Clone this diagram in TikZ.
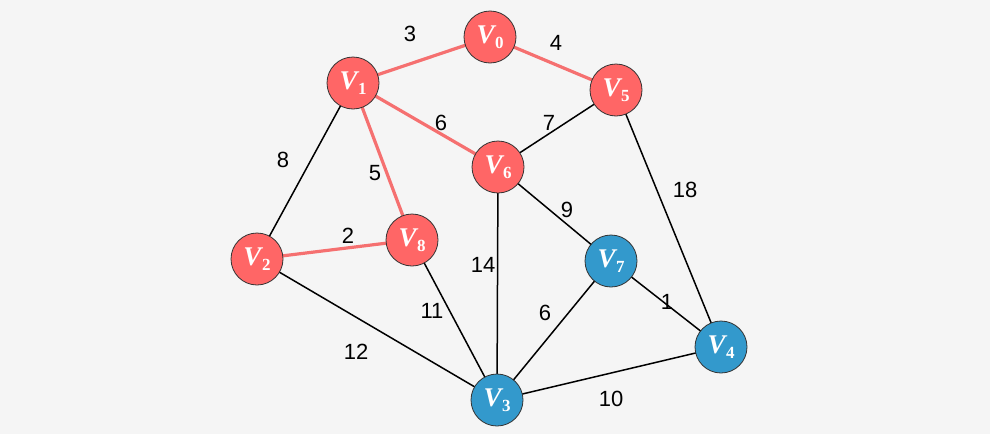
\documentclass[tikz,border=0pt]{standalone}
\usepackage{fontspec}
\setsansfont{Liberation Sans}
\newfontfamily\vfont{Liberation Serif}
\newcommand{\vl}[1]{{\vfont\bfseries\itshape V}\kern0.5pt\raisebox{-5pt}{\vfont\bfseries\fontsize{17}{20}\selectfont #1}}
\begin{document}
\begin{tikzpicture}[x=1pt,y=-1pt,
  vred/.style={circle,draw=black!80,line width=0.8pt,fill=redfill,minimum size=52pt,inner sep=0pt,text=white,font=\fontsize{27}{30}\selectfont},
  vblue/.style={vred,fill=bluefill},
  redge/.style={draw=redline,line width=3.2pt},
  bedge/.style={draw=black,line width=1.5pt},
  lab/.style={font=\sffamily\fontsize{22}{26}\selectfont,text=black,inner sep=0pt}]
\definecolor{redfill}{HTML}{FF6666}
\definecolor{redline}{HTML}{F57070}
\definecolor{bluefill}{HTML}{3399CC}
\definecolor{bg}{HTML}{F5F5F5}
\fill[bg] (0,0) rectangle (990,434);
\useasboundingbox (0,0) rectangle (990,434);
% positions
\coordinate (p0) at (490,37);
\coordinate (p1) at (353,83);
\coordinate (p5) at (616,90);
\coordinate (p6) at (498,167);
\coordinate (p2) at (257,259);
\coordinate (p8) at (412,240);
\coordinate (p7) at (611,261);
\coordinate (p4) at (721,347);
\coordinate (p3) at (497,400);
% edges
\draw[redge] (p1) -- (p0);
\draw[redge] (p0) -- (p5);
\draw[redge] (p1) -- (p6);
\draw[redge] (p1) -- (p8);
\draw[redge] (p2) -- (p8);
\draw[bedge] (p1) -- (p2);
\draw[bedge] (p5) -- (p6);
\draw[bedge] (p5) -- (p4);
\draw[bedge] (p6) -- (p7);
\draw[bedge] (p6) -- (p3);
\draw[bedge] (p8) -- (p3);
\draw[bedge] (p2) -- (p3);
\draw[bedge] (p7) -- (p3);
\draw[bedge] (p7) -- (p4);
\draw[bedge] (p4) -- (p3);
% nodes
\node[vred] (v0) at (p0) {\vl{0}};
\node[vred] (v1) at (p1) {\vl{1}};
\node[vred] (v5) at (p5) {\vl{5}};
\node[vred] (v6) at (p6) {\vl{6}};
\node[vred] (v2) at (p2) {\vl{2}};
\node[vred] (v8) at (p8) {\vl{8}};
\node[vblue] (v7) at (p7) {\vl{7}};
\node[vblue] (v4) at (p4) {\vl{4}};
\node[vblue] (v3) at (p3) {\vl{3}};
% labels
\node[lab] (l3) at (410,34) {3};
\node[lab] (l4) at (556,43) {4};
\node[lab] (l6a) at (441,123) {6};
\node[lab] (l7) at (549,123) {7};
\node[lab] (l5) at (375,173) {5};
\node[lab] (l8) at (283,160) {8};
\node[lab] (l18) at (685,190) {18};
\node[lab] (l9) at (567,210) {9};
\node[lab] (l2) at (348,236) {2};
\node[lab] (l14) at (483,265) {14};
\node[lab] (l11) at (432,311) {11};
\node[lab] (l6b) at (545,313) {6};
\node[lab] (l1) at (667,302) {1};
\node[lab] (l12) at (356,352) {12};
\node[lab] (l10) at (611,399) {10};
\end{tikzpicture}
\end{document}
